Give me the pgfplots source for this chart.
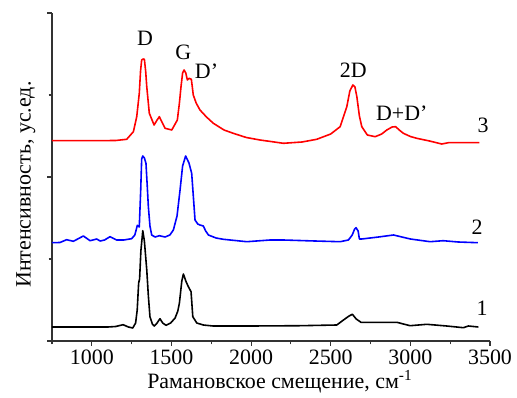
\documentclass[border=0pt]{standalone}
\usepackage{fontspec}
\setmainfont{Liberation Serif}
\usepackage{pgfplots}
\pgfplotsset{compat=1.18}
\begin{document}
\begin{tikzpicture}[x=1bp,y=1bp]
\begin{axis}[
  at={(0,0)}, anchor=south west,
  scale only axis, width=438bp, height=328bp,
  xmin=750, xmax=3500, ymin=0, ymax=328,
  axis x line*=bottom, axis y line*=left,
  axis line style={line width=1.2pt, black!80},
  xtick={1000,1500,2000,2500,3000,3500},
  minor xtick={750,1250,1750,2250,2750,3250},
  ytick={0,164,328}, minor ytick={82,246},
  yticklabels={}, 
  tick align=outside, major tick length=5pt, minor tick length=3.5pt,
  every tick/.style={line width=1.1pt, black!80},
  /pgf/number format/1000 sep={},
  /pgf/number format/assume math mode=true,
  tick label style={font=\fontsize{22}{26}\selectfont},
  xlabel={Рамановское смещение, см\textsuperscript{-1}},
  ylabel={Интенсивность, ус.ед.},
  label style={font=\fontsize{22}{26}\selectfont},
  xlabel style={at={(axis description cs:0.52,0)}, anchor=north, yshift=-26bp},
  ylabel style={at={(axis description cs:0,0.477)}, anchor=south, yshift=13bp},
  clip=false,
]
% curve 1 (black)
\addplot[black, line width=1.6pt, line join=round] coordinates {
(750,14) (900,14) (1100,14) (1150,14.5) (1196,16.3) (1230,14) (1257,13) (1275,18) (1285,31) (1294,58) (1300,62) (1308,90) (1320,110.3) (1330,100) (1345,71) (1355,45) (1365,24.3) (1380,17) (1392,15) (1410,18) (1428,22.3) (1445,18) (1466,15.7) (1495,18) (1523,23) (1540,30) (1550,38) (1565,60) (1575,67) (1590,60) (1606,54.3) (1623,49.3) (1628,38) (1634,24.3) (1659,18) (1700,16) (1761,15) (2000,15) (2307,15.3) (2538,16) (2580,21) (2615,25) (2636,26.7) (2660,22) (2690,18.7) (2810,18.7) (2915,18.7) (2998,15.3) (3103,16.7) (3228,15) (3333,13.3) (3364,15) (3427,14)
};
% curve 2 (blue)
\addplot[blue, line width=1.6pt, line join=round] coordinates {
(750,98.3) (800,98.5) (842,101.3) (884,99.7) (947,105) (989,100.3) (1031,102) (1052,100) (1080,101) (1114,104.3) (1156,101) (1200,101) (1250,102.3) (1270,106) (1286,115.7) (1298,114) (1307,151) (1313,182) (1320,185) (1330,183) (1340,177.7) (1348,155) (1355,134.3) (1365,115) (1376,106) (1397,104) (1424,105.3) (1460,104) (1490,106) (1512,111) (1535,125) (1554,151) (1570,175) (1589,185) (1610,178) (1627,167.7) (1635,150) (1648,121) (1665,117) (1679,116) (1700,115) (1715,110) (1732,106) (1780,103) (1826,101.7) (1973,99.3) (2119,101) (2203,101) (2400,100) (2559,99.3) (2611,101) (2635,106) (2650,112) (2659,113.3) (2672,110) (2680,102) (2695,102) (2800,104) (2894,106) (3000,102) (3124,99.3) (3206,100.3) (3300,99) (3424,98.3)
};
% curve 3 (red)
\addplot[red, line width=1.6pt, line join=round] coordinates {
(750,200.3) (1000,200.3) (1150,200.5) (1219,201.7) (1261,209.3) (1282,224.3) (1298,247.7) (1306,270) (1313,281) (1322,282) (1330,281.7) (1338,270) (1345,254.3) (1361,227.7) (1391,216) (1410,221) (1424,224.3) (1440,219) (1460,212.7) (1502,211) (1537,221) (1550,238) (1560,254.3) (1570,268) (1579,271) (1590,268) (1600,261) (1606,262) (1612,262.7) (1620,262) (1625,261.7) (1637,246) (1655,238) (1679,231) (1720,224) (1763,217.7) (1830,211) (1888,207.7) (1970,203.5) (2056,201) (2203,197.7) (2320,199) (2412,201.7) (2500,207) (2559,214.3) (2601,234.3) (2620,250) (2639,256) (2652,254) (2664,244.3) (2680,225) (2695,214.3) (2730,206) (2779,204.3) (2820,207) (2852,211) (2885,214) (2908,214.3) (2930,211) (2956,207.7) (3000,204.5) (3040,202.7) (3120,200) (3197,197) (3239,198.3) (3434,198.3)
};
\node[font=\fontsize{22}{26}\selectfont] at (axis cs:1334,303) {D};
\node[font=\fontsize{22}{26}\selectfont] at (axis cs:1574,289) {G};
\node[font=\fontsize{22}{26}\selectfont] at (axis cs:1720,270) {D'};
\node[font=\fontsize{22}{26}\selectfont] at (axis cs:2642,271) {2D};
\node[font=\fontsize{22}{26}\selectfont] at (axis cs:2946,228) {D+D'};
\node[font=\fontsize{22}{26}\selectfont] at (axis cs:3456,216) {3};
\node[font=\fontsize{22}{26}\selectfont] at (axis cs:3419,114) {2};
\node[font=\fontsize{22}{26}\selectfont] at (axis cs:3450,33) {1};
\end{axis}
\pgfresetboundingbox
\path[use as bounding box] (-52bp,-57bp) rectangle (465bp,341bp);
\end{tikzpicture}
\end{document}
